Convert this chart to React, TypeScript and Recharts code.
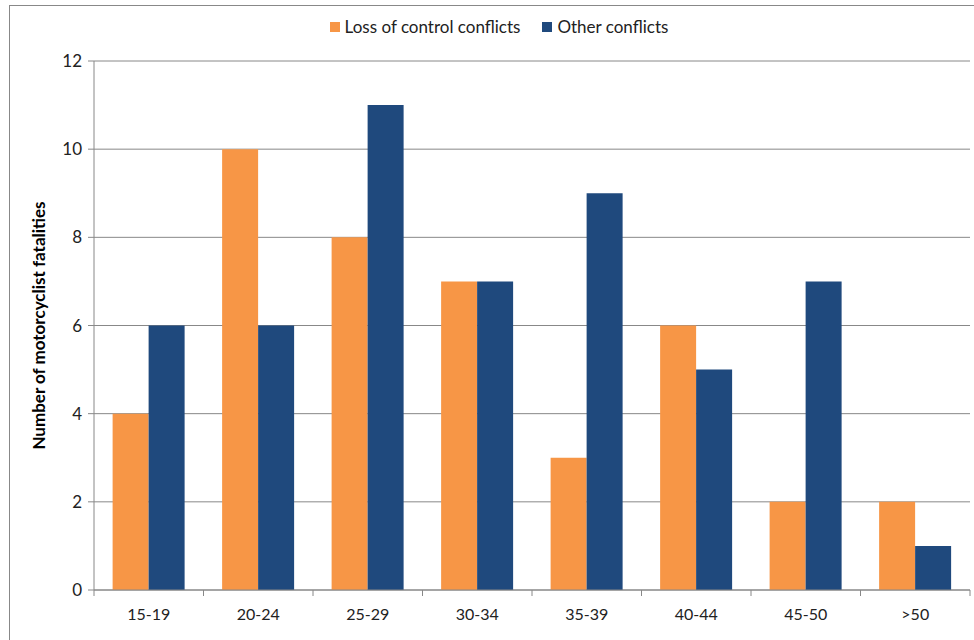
import { BarChart, Bar, XAxis, YAxis, CartesianGrid } from 'recharts';

const ageGroups = ['15-19', '20-24', '25-29', '30-34', '35-39', '40-44', '45-50', '>50'];
const lossOfControl = [4, 10, 8, 7, 3, 6, 2, 2];
const otherConflicts = [6, 6, 11, 7, 9, 5, 7, 1];
const yTicks = [0, 2, 4, 6, 8, 10, 12];

const chartData = ageGroups.map((group, i) => ({
  group,
  loss: lossOfControl[i],
  other: otherConflicts[i],
}));

const FONT = 'Lato, "Open Sans", sans-serif';
const GRID = '#888888';
const ORANGE = '#F79646';
const BLUE = '#1F497D';

// plot area: left 94, right 970 -> 8 bands
const PLOT_LEFT = 94;
const PLOT_RIGHT = 970;
const BAND = (PLOT_RIGHT - PLOT_LEFT) / ageGroups.length;

function XTick(props: any) {
  const { x, y, payload, index } = props;
  const left = x - BAND / 2;
  return (
    <g>
      <line x1={left} x2={left} y1={y - 8} y2={y - 2} stroke={GRID} />
      {index === ageGroups.length - 1 && (
        <line x1={x + BAND / 2} x2={x + BAND / 2} y1={y - 8} y2={y - 2} stroke={GRID} />
      )}
      <text x={x} y={y + 22} textAnchor="middle" fill="#222" fontSize={16} fontFamily={FONT}>
        {payload.value}
      </text>
    </g>
  );
}

export default function App() {
  return (
    <div style={{ position: 'absolute', left: 0, top: 0, width: 974, height: 640, overflow: 'hidden', background: '#fff' }}>
      <div style={{ position: 'absolute', left: 9, top: 5, width: 1000, height: 700, border: '1px solid #888', boxSizing: 'border-box' }} />
      <div style={{ position: 'absolute', left: 0, top: 16, width: 974, display: 'flex', justifyContent: 'center', gap: 22, fontFamily: FONT, fontSize: 17, color: '#222' }}>
        <span style={{ display: 'flex', alignItems: 'center', gap: 5, marginLeft: 24 }}>
          <span style={{ width: 10, height: 10, background: ORANGE, display: 'inline-block' }} />
          Loss of control conflicts
        </span>
        <span style={{ display: 'flex', alignItems: 'center', gap: 5 }}>
          <span style={{ width: 10, height: 10, background: BLUE, display: 'inline-block' }} />
          Other conflicts
        </span>
      </div>
      <div style={{ position: 'absolute', left: 0, top: 0 }}>
        <BarChart
          width={974}
          height={640}
          data={chartData}
          margin={{ top: 61, right: 974 - PLOT_RIGHT, bottom: 20, left: 0 }}
          barCategoryGap="17%"
          barGap={0}
        >
          <CartesianGrid horizontal vertical={false} stroke={GRID} strokeWidth={1} />
          <XAxis
            dataKey="group"
            height={30}
            stroke={GRID}
            tickLine={false}
            tick={<XTick />}
            interval={0}
          />
          <YAxis
            width={PLOT_LEFT}
            domain={[0, 12]}
            ticks={yTicks}
            stroke={GRID}
            tickSize={6}
            tickMargin={6}
            tick={{ fill: '#222', fontSize: 17, fontFamily: FONT }}
            label={{
              value: 'Number of motorcyclist fatalities',
              angle: -90,
              position: 'insideLeft',
              dx: 34,
              style: { textAnchor: 'middle', fontWeight: 'bold', fontSize: 17, fill: '#000', fontFamily: FONT },
            }}
          />
          <Bar dataKey="loss" fill={ORANGE} isAnimationActive={false} />
          <Bar dataKey="other" fill={BLUE} isAnimationActive={false} />
        </BarChart>
      </div>
    </div>
  );
}
